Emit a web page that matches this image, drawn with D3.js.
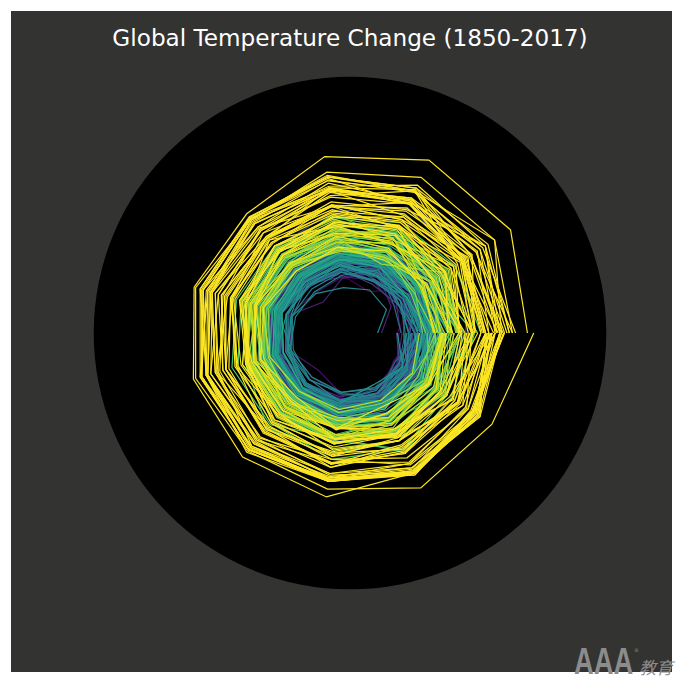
<!DOCTYPE html>
<html><head><meta charset="utf-8">
<script src="https://d3js.org/d3.v7.min.js"></script>
<style>html,body{margin:0;padding:0;background:#fff}svg{display:block}</style>
</head><body><div id="c"></div>
<script>
const title = "Global Temperature Change (1850-2017)";
const firstYear = 1850, lastYear = 2017;
const months = ["Jan","Feb","Mar","Apr","May","Jun","Jul","Aug","Sep","Oct","Nov","Dec"];
const radialDomain = [0, 3.25];
const radialOffset = 1;
// monthly anomaly against the pre-industrial mean, in hundredths of a degree, one row per year
const anomalies = [
[-40,1,-42,-26,-8,11,-1,-6,2,10,-16,-8],
[0,3,-2,12,14,8,10,11,17,16,6,5],
[-3,-8,-4,-12,12,10,16,8,8,2,-6,14],
[5,-6,-3,-5,-10,1,6,2,-8,-4,-12,-3],
[-7,-8,-3,-8,-3,2,3,0,-1,-8,-21,-3],
[-6,-11,-14,-1,-3,2,5,1,-2,-8,-11,-21],
[-8,-2,-12,-6,-13,-1,-2,-3,-6,-12,-20,-14],
[-4,-10,-26,-28,-33,-18,-20,-38,-22,-16,-33,-10],
[-14,-34,-28,-21,-14,-8,-10,-13,-16,-9,-34,-18],
[-1,4,-6,-2,0,6,8,4,-9,-3,-20,-23],
[-17,-22,-29,-9,-4,-1,2,-2,-5,-5,-14,-29],
[-24,-28,-18,-19,-22,-2,-1,-2,-7,-6,-12,-12],
[-60,-38,-16,-30,-48,-20,-22,-26,-20,-12,-29,-38],
[8,11,-10,-4,-7,-6,-8,-6,-3,1,-2,5],
[-36,-30,-16,-28,-18,-8,-4,-15,-18,-24,-28,-34],
[2,-18,-14,-5,3,6,5,9,2,4,7,-1],
[14,-2,-8,-4,-7,3,12,-3,4,0,1,-4],
[-1,14,-16,-1,-2,9,-3,4,-3,1,-2,-9],
[-24,-16,4,-5,5,11,12,9,4,6,2,9],
[11,18,-6,2,4,3,7,12,7,0,-8,-1],
[2,-7,-2,0,4,6,13,6,8,-7,-3,-18],
[1,-25,3,-4,-5,-2,3,1,-4,-7,-11,-20],
[4,-2,4,1,8,11,9,10,9,14,10,7],
[11,-3,-3,-7,-9,3,4,7,1,1,-10,0],
[11,0,-15,-19,-14,-3,-5,-4,-9,-8,-14,-15],
[-3,-30,-32,-19,-14,-8,-11,-8,-14,-22,-24,-24],
[-3,-6,-7,-10,-4,-5,0,-3,-8,-8,-25,-41],
[-24,-1,2,13,18,23,35,33,39,42,42,45],
[47,74,75,56,43,27,14,19,24,23,14,0],
[-3,-3,12,5,0,-2,-3,8,0,-1,-10,-14],
[24,14,13,5,7,4,-4,7,6,1,-2,7],
[18,20,15,14,30,20,15,10,6,2,-4,12],
[30,25,15,-5,-2,-3,3,12,13,2,-5,-6],
[-5,-18,-5,3,7,12,20,12,8,2,4,-1],
[2,-1,-14,-18,-22,-15,-16,-12,-10,-16,-26,-24],
[-32,-17,-9,-20,-18,-6,-4,-1,2,-5,0,4],
[-9,-18,-9,-4,-2,-6,-2,-3,-2,-10,-12,-6],
[-17,-24,-21,-14,-13,-8,-8,-16,-9,-17,-16,-21],
[-19,-20,-25,-8,-4,-2,1,2,4,18,9,12],
[7,25,9,16,15,7,8,3,1,6,-5,8],
[-5,-10,-22,-17,-20,-10,-12,-12,-8,-14,-32,-9],
[-8,-12,-8,-6,-3,-4,-3,-5,4,2,-10,-1],
[-14,-4,-20,-13,-12,-8,-12,-6,-7,-16,-26,-30],
[-35,-34,-12,-20,-22,-6,-4,-6,-8,-10,-13,-17],
[-10,-5,-3,-10,-14,-10,-5,-8,-9,-12,-10,-8],
[-25,-28,-4,-3,-5,4,-2,-1,3,-6,0,-2],
[1,5,-8,-4,-2,11,10,8,12,16,14,15],
[15,5,8,20,18,8,8,10,6,4,6,-2],
[-2,3,-20,-7,-12,-5,-7,-5,-8,-12,-18,-8],
[-2,-8,-8,-3,-4,-6,-3,2,14,11,22,0],
[0,10,9,8,10,14,12,12,14,22,12,20],
[15,4,12,16,10,8,7,5,3,3,-6,-9],
[6,8,-2,-4,-10,-6,-11,-9,-13,-12,-16,-22],
[-1,10,-5,-17,-18,-24,-17,-21,-24,-22,-21,-29],
[-30,-24,-26,-22,-26,-23,-25,-22,-22,-12,-4,-12],
[-10,-30,-7,-9,-6,-3,-3,-1,-4,-3,7,2],
[2,1,-6,6,-6,-1,-3,0,-6,-2,-18,-3],
[-18,-28,-12,-26,-31,-28,-20,-22,-12,-6,-22,-15],
[-8,-14,-28,-18,-16,-18,-19,-16,-14,-20,-27,-22],
[-65,-45,-40,-42,-34,-24,-22,-12,-14,-16,-14,-32],
[-14,-16,-18,-12,-14,-16,-18,-14,-12,-16,-22,-28],
[-26,-24,-28,-22,-20,-16,-15,-14,-12,-6,-4,-6],
[-2,2,-10,0,-2,-5,-22,-26,-24,-24,-18,-14],
[-8,-12,-16,-10,-14,-10,-4,-2,-3,-4,4,-5],
[6,-7,-5,-3,-4,3,6,14,15,20,12,16],
[12,28,18,22,20,15,22,18,14,8,14,16],
[10,12,0,-3,-10,-22,-18,-8,-6,-6,-14,-26],
[-10,-15,-20,-12,-20,-16,-2,-5,-10,-28,-20,-40],
[-14,-20,-20,-14,-14,-5,0,-2,6,-2,-6,5],
[5,0,-6,0,-3,-8,-1,1,6,4,-8,-4],
[2,6,5,-2,-8,-6,-5,0,2,2,-4,-14],
[18,8,3,6,6,10,18,6,12,18,8,12],
[0,-8,5,2,-3,-3,3,1,3,4,7,-1],
[6,-4,-1,-6,-4,-1,-2,0,6,12,20,12],
[4,-6,0,-6,-5,-1,-2,-4,1,1,3,-2],
[-4,-5,1,2,-1,2,7,13,12,13,27,22],
[36,34,34,20,14,18,6,15,18,18,22,8],
[14,16,0,6,7,5,15,8,17,22,18,-2],
[24,10,2,8,12,6,16,11,11,14,12,7],
[0,-15,-8,-6,-8,-10,-12,-8,-3,0,10,-18],
[4,10,20,6,12,10,12,15,14,20,28,20],
[26,14,8,12,14,27,26,24,20,24,14,24],
[28,2,14,20,14,12,13,10,22,24,14,18],
[8,6,2,2,2,0,2,4,2,3,-4,-8],
[12,20,8,6,12,20,18,20,14,20,22,20],
[14,28,18,6,6,10,10,10,10,14,6,4],
[10,4,12,10,14,18,18,18,18,20,20,22],
[14,22,8,16,24,26,28,34,40,42,38,26],
[36,26,40,30,24,22,26,32,34,42,36,14],
[30,30,22,24,26,26,26,26,30,22,44,56],
[26,42,40,38,38,36,42,36,42,42,32,58],
[36,46,38,46,46,50,56,54,34,66,52,54],
[62,36,40,40,42,36,38,34,34,38,40,38],
[24,32,26,38,36,30,36,34,38,62,58,58],
[66,58,54,48,44,44,48,52,62,62,46,40],
[40,28,32,52,36,34,38,60,54,50,30,18],
[44,32,30,36,18,10,18,10,16,14,18,-2],
[28,20,36,32,22,24,30,24,20,38,32,18],
[58,20,6,16,28,28,18,16,18,18,10,2],
[38,14,8,14,14,10,14,16,14,18,16,8],
[-8,-2,12,8,16,16,12,8,10,6,-4,16],
[-4,-8,14,22,32,26,30,30,34,40,28,42],
[38,38,26,26,26,30,36,36,38,28,16,26],
[34,44,46,48,44,44,34,34,34,36,32,38],
[10,26,16,18,14,14,14,18,20,26,34,8],
[40,22,4,12,12,22,18,22,18,18,2,8],
[8,-4,6,8,4,8,6,-2,2,-2,12,16],
[14,24,26,36,40,44,36,42,42,36,42,46],
[72,58,38,32,38,24,34,24,30,36,38,32],
[40,36,46,38,32,34,34,30,32,22,18,30],
[28,42,-4,22,26,30,24,30,32,32,16,42],
[36,48,42,44,42,42,34,34,36,28,32,18],
[38,40,36,30,28,38,32,30,34,36,38,32],
[36,50,24,20,26,32,38,48,48,50,44,28],
[28,20,6,6,10,16,6,-2,-2,-6,-6,-12],
[20,8,16,4,14,14,8,16,8,22,14,20],
[24,30,26,16,16,30,26,20,22,12,14,18],
[16,14,32,26,38,26,26,28,22,40,30,20],
[6,10,48,22,12,26,14,26,22,28,20,14],
[12,6,32,46,46,40,32,30,36,40,46,56],
[38,56,30,34,30,32,26,24,36,22,20,16],
[26,16,2,10,18,18,20,24,22,26,26,22],
[6,12,28,28,30,32,36,36,30,46,44,62],
[58,68,66,62,58,54,44,40,42,40,30,16],
[8,8,18,24,16,24,18,18,12,18,20,18],
[30,34,36,28,38,26,24,12,24,12,18,18],
[30,14,14,10,4,14,18,6,22,2,20,38],
[40,52,54,52,52,52,50,38,42,40,54,48],
[42,44,48,42,30,24,28,14,36,34,56,42],
[40,24,44,42,36,46,38,50,58,60,70,78],
[56,52,48,58,60,58,48,52,56,50,64,46],
[88,70,74,64,50,58,60,62,52,50,62,84],
[24,44,24,38,46,36,42,36,50,50,50,80],
[90,82,70,62,68,56,50,62,58,46,70,50],
[56,38,50,36,56,38,36,50,46,42,36,22],
[46,26,38,40,40,38,34,46,40,42,46,40],
[50,56,50,50,38,42,36,40,40,44,46,52],
[54,66,46,62,60,62,76,60,72,66,62,84],
[82,68,80,74,74,74,68,64,68,68,58,66],
[38,60,62,56,52,56,64,68,68,64,54,72],
[66,70,100,86,74,68,72,76,62,84,88,76],
[72,76,64,82,72,82,78,74,72,58,62,66],
[70,70,62,48,46,46,30,30,22,34,40,56],
[68,68,56,54,56,56,52,46,36,46,36,52],
[54,42,58,64,62,66,64,56,62,74,78,76],
[90,104,82,80,62,78,76,80,66,80,76,54],
[58,78,58,64,60,64,64,58,54,62,64,72],
[60,68,82,62,76,84,78,82,88,94,90,90],
[92,118,98,100,95,98,98,96,88,92,84,96],
[86,104,72,68,60,70,68,66,66,68,66,74],
[58,84,80,86,60,70,64,66,68,56,62,56],
[72,72,88,84,84,84,88,86,80,88,90,74],
[102,104,106,88,88,86,88,84,86,82,86,80],
[106,90,86,84,90,84,88,92,88,98,82,90],
[84,96,88,84,68,78,74,90,84,88,94,78],
[94,82,102,100,92,94,96,90,90,96,92,84],
[76,92,84,82,78,94,96,96,90,96,86,95],
[110,100,96,96,86,82,84,80,80,82,74,72],
[56,62,98,76,72,74,84,78,82,94,86,80],
[86,80,80,84,84,90,96,96,90,94,94,90],
[102,108,102,100,94,96,96,96,88,92,96,72],
[76,74,84,92,78,88,90,86,86,90,78,84],
[70,72,80,98,92,94,90,92,88,96,92,80],
[96,90,86,86,92,94,90,94,90,92,96,92],
[92,82,98,102,94,98,90,100,90,98,88,95],
[99,96,98,95,92,104,104,98,100,116,114,133],
[125,142,141,126,100,106,107,108,110,95,84,92],
[106,118,117,106,90,88,98,96,86,95,84,95]
];
const years = d3.range(firstYear, lastYear + 1);

const W = 684, H = 683, cx = 350, cy = 333, R = 256.3;
const svg = d3.select("#c").append("svg").attr("width", W).attr("height", H);
svg.append("rect").attr("x", 11).attr("y", 11).attr("width", 661).attr("height", 661).attr("fill", "#333331");
svg.append("circle").attr("cx", cx).attr("cy", cy).attr("r", R).attr("fill", "#000");

const rScale = d3.scaleLinear().domain(radialDomain).range([0, R]);
const theta = d3.scaleLinear().domain([0, months.length - 1]).range([0, 2 * Math.PI]);
const colour = d3.scaleLinear().domain([0, 255]).range([0, 1]).clamp(true);
const line = d3.lineRadial()
  .angle((d, i) => Math.PI / 2 - theta(i))
  .radius(d => rScale(d / 100 + radialOffset));

const g = svg.append("g").attr("transform", `translate(${cx},${cy})`);
g.selectAll("path").data(anomalies).join("path")
  .attr("d", line)
  .attr("data-year", (d, i) => years[i])
  .attr("fill", "none")
  .attr("stroke", (d, i) => d3.interpolateViridis(colour(i * 2)))
  .attr("stroke-width", 1.2);

svg.append("text").attr("x", cx).attr("y", 46).attr("text-anchor", "middle")
  .attr("font-family", "DejaVu Sans").attr("font-size", 23.15).attr("fill", "#fff").text(title);

// watermark
const wm = svg.append("g").attr("fill", "#8c8c8c");
wm.append("text").attr("transform", "translate(574,674) scale(0.74,1)")
  .attr("font-family", "Liberation Sans").attr("font-weight", "bold").attr("font-size", 37).text("AAA");
wm.append("text").attr("x", 634).attr("y", 652).attr("font-family", "DejaVu Sans").attr("font-size", 5).text("®");
wm.append("text").attr("x", 639).attr("y", 674).attr("font-family", "Noto Sans CJK SC")
  .attr("font-style", "italic").attr("font-size", 17).text("教育");
</script></body></html>
